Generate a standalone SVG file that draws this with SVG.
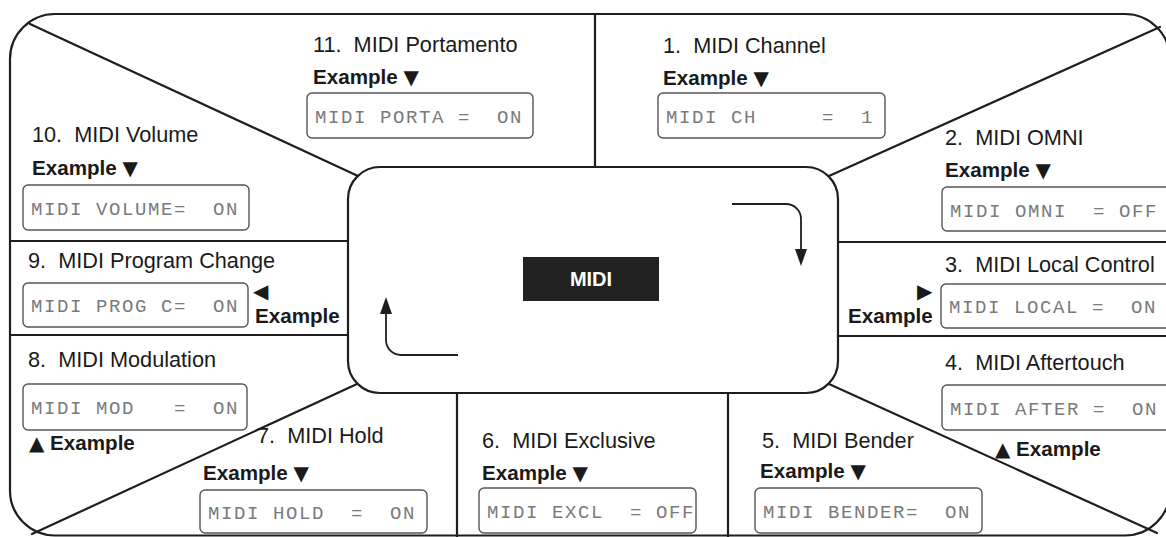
<svg xmlns="http://www.w3.org/2000/svg" width="1166" height="537" viewBox="0 0 1166 537">
<style>
.ln{fill:none;stroke:#1e1e1e;stroke-width:2.2;stroke-linecap:round}
.t{font-family:"Liberation Sans",Arial,sans-serif;font-size:21.7px;fill:#1a1a1a;white-space:pre}
.ex{font-family:"Liberation Sans",Arial,sans-serif;font-size:20.6px;font-weight:bold;fill:#1a1a1a;white-space:pre}
.tri{font-family:"DejaVu Sans",sans-serif;font-size:20px;font-weight:normal}
.lcd{fill:#fff;stroke:#555;stroke-width:1.4}
.lt{font-family:"Liberation Mono","DejaVu Sans Mono",monospace;font-size:19px;fill:#7a7a7a;letter-spacing:1.6px;white-space:pre}
.arr{fill:none;stroke:#1e1e1e;stroke-width:1.8}
</style>
<rect width="1166" height="537" fill="#fff"/>
<g id="frame">
<rect class="ln" x="10" y="14" width="1160" height="521.5" rx="45"/>
<line class="ln" x1="30" y1="24" x2="358" y2="176"/>
<line class="ln" x1="829" y1="176" x2="1160" y2="27"/>
<line class="ln" x1="357" y1="384" x2="32" y2="534"/>
<line class="ln" x1="829" y1="384" x2="1157" y2="533"/>
<line class="ln" x1="595" y1="14" x2="595" y2="167"/>
<line class="ln" x1="10" y1="241" x2="348" y2="241"/>
<line class="ln" x1="10" y1="335" x2="348" y2="335"/>
<line class="ln" x1="838" y1="242" x2="1166" y2="242"/>
<line class="ln" x1="838" y1="336" x2="1166" y2="336"/>
<line class="ln" x1="457" y1="393" x2="457" y2="537"/>
<line class="ln" x1="728" y1="393" x2="728" y2="537"/>
</g>
<g id="center">
<rect class="ln" x="348" y="167" width="490" height="226" rx="32" fill="#fff"/>
<rect x="523" y="257" width="136" height="44" fill="#222"/>
<text x="591" y="286" text-anchor="middle" font-family="Liberation Sans,Arial,sans-serif" font-size="20" font-weight="bold" fill="#fff">MIDI</text>
</g>
<g id="connectors">
<path class="arr" d="M732,204 H786 A15,15 0 0 1 801,219 V252"/>
<polygon points="795,249 807,249 801,266" fill="#1e1e1e"/>
<path class="arr" d="M458,355 H401 A15,15 0 0 1 386,340 V313"/>
<polygon points="380,314 392,314 386,297" fill="#1e1e1e"/>
</g>
<g id="n11">
<text class="t" x="313" y="52">11.  MIDI Portamento</text>
<text class="ex" x="313" y="84">Example <tspan class="tri">▼</tspan></text>
<rect class="lcd" x="307" y="93" width="226" height="45" rx="5"/>
<text class="lt" x="315" y="123">MIDI PORTA =  ON</text>
</g>
<g id="n1">
<text class="t" x="663" y="53">1.  MIDI Channel</text>
<text class="ex" x="663" y="85">Example <tspan class="tri">▼</tspan></text>
<rect class="lcd" x="658" y="93" width="227" height="45" rx="5"/>
<text class="lt" x="666" y="123">MIDI CH     =  1</text>
</g>
<g id="n10">
<text class="t" x="32" y="142">10.  MIDI Volume</text>
<text class="ex" x="32" y="175">Example <tspan class="tri">▼</tspan></text>
<rect class="lcd" x="23" y="185" width="226" height="45" rx="5"/>
<text class="lt" x="31" y="215">MIDI VOLUME=  ON</text>
</g>
<g id="n2">
<text class="t" x="945" y="145">2.  MIDI OMNI</text>
<text class="ex" x="945" y="177">Example <tspan class="tri">▼</tspan></text>
<rect class="lcd" x="942" y="187" width="240" height="44" rx="5"/>
<text class="lt" x="950" y="217">MIDI OMNI  = OFF</text>
</g>
<g id="n9">
<text class="t" x="28" y="268">9.  MIDI Program Change</text>
<rect class="lcd" x="23" y="283" width="225" height="44" rx="5"/>
<text class="lt" x="31" y="312">MIDI PROG C=  ON</text>
<text class="ex"><tspan class="tri" x="253" y="298">◀</tspan><tspan x="255" y="323">Example</tspan></text>
</g>
<g id="n3">
<text class="t" x="945" y="272">3.  MIDI Local Control</text>
<text class="ex"><tspan class="tri" x="917" y="298">▶</tspan><tspan x="848" y="323">Example</tspan></text>
<rect class="lcd" x="941" y="284" width="240" height="44" rx="5"/>
<text class="lt" x="949" y="313">MIDI LOCAL =  ON</text>
</g>
<g id="n8">
<text class="t" x="28" y="367">8.  MIDI Modulation</text>
<rect class="lcd" x="23" y="384" width="224" height="46" rx="5"/>
<text class="lt" x="31" y="414">MIDI MOD   =  ON</text>
<text class="ex" x="29" y="450"><tspan class="tri">▲</tspan> Example</text>
</g>
<g id="n4">
<text class="t" x="945" y="370">4.  MIDI Aftertouch</text>
<rect class="lcd" x="942" y="385" width="240" height="45" rx="5"/>
<text class="lt" x="950" y="415">MIDI AFTER =  ON</text>
<text class="ex" x="995" y="456"><tspan class="tri">▲</tspan> Example</text>
</g>
<g id="n7">
<text class="t" x="257" y="443">7.  MIDI Hold</text>
<text class="ex" x="203" y="480">Example <tspan class="tri">▼</tspan></text>
<rect class="lcd" x="200" y="490" width="227" height="43" rx="5"/>
<text class="lt" x="208" y="519">MIDI HOLD  =  ON</text>
</g>
<g id="n6">
<text class="t" x="482" y="448">6.  MIDI Exclusive</text>
<text class="ex" x="482" y="480">Example <tspan class="tri">▼</tspan></text>
<rect class="lcd" x="479" y="488" width="217" height="45" rx="5"/>
<text class="lt" x="487" y="518">MIDI EXCL  = OFF</text>
</g>
<g id="n5">
<text class="t" x="762" y="448">5.  MIDI Bender</text>
<text class="ex" x="760" y="478">Example <tspan class="tri">▼</tspan></text>
<rect class="lcd" x="755" y="488" width="227" height="45" rx="5"/>
<text class="lt" x="763" y="518">MIDI BENDER=  ON</text>
</g>
</svg>
